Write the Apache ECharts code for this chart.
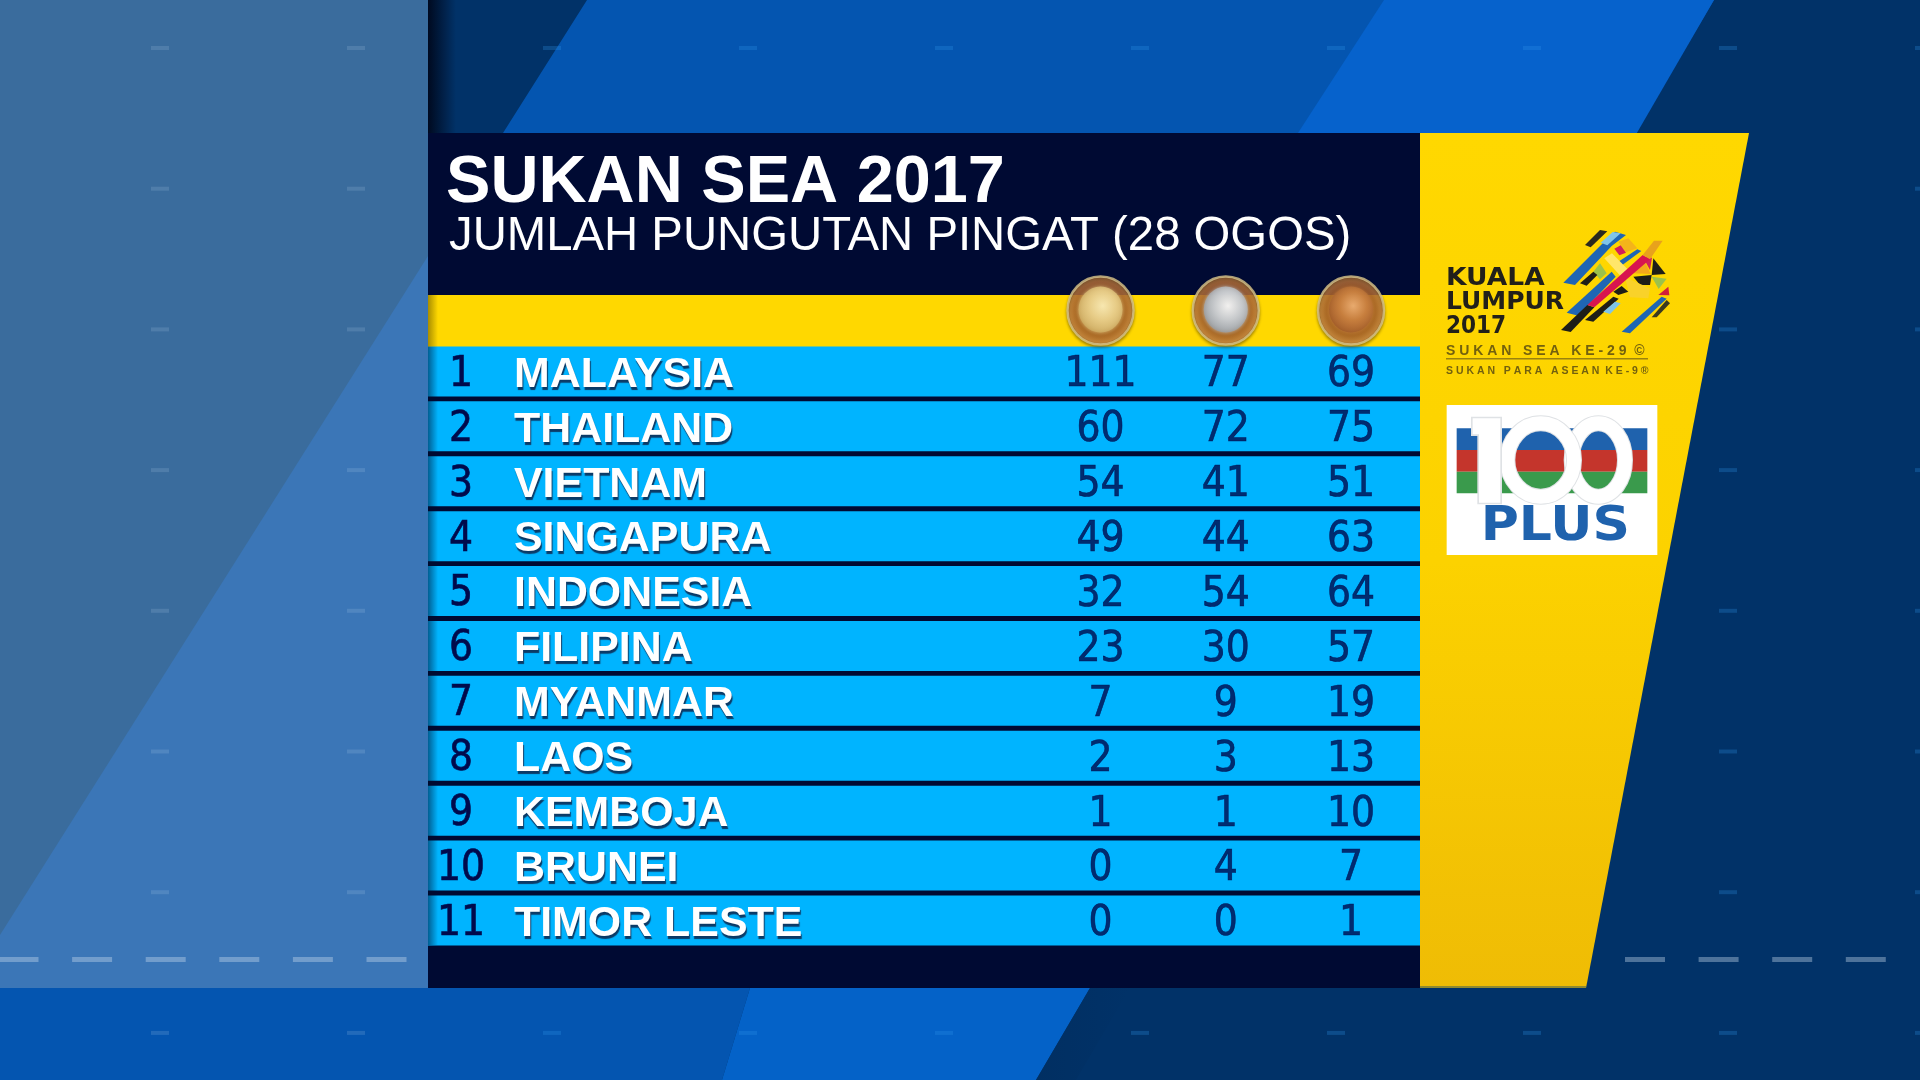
<!DOCTYPE html>
<html>
<head>
<meta charset="utf-8">
<title>Sukan SEA 2017</title>
<style>html,body{margin:0;padding:0;background:#013268;overflow:hidden}#c{width:1920px;height:1080px}</style>
<script src="https://cdn.jsdelivr.net/npm/echarts@6/dist/echarts.min.js"></script>
</head>
<body>
<div id="c"></div>
<script>
const titleText = 'SUKAN SEA 2017';
const subtitleText = 'JUMLAH PUNGUTAN PINGAT (28 OGOS)';
const ranks = ['1','2','3','4','5','6','7','8','9','10','11'];
const countries = ['MALAYSIA','THAILAND','VIETNAM','SINGAPURA','INDONESIA','FILIPINA','MYANMAR','LAOS','KEMBOJA','BRUNEI','TIMOR LESTE'];
const medals = ['Emas','Perak','Gangsa'];
const goldValues = [111,60,54,49,32,23,7,2,1,0,0];
const silverValues = [77,72,41,44,54,30,9,3,1,4,0];
const bronzeValues = [69,75,51,63,64,57,19,13,10,7,1];

const HEADER = ' ';
const yCats = [HEADER].concat(countries);
const NAVY = '#000a33', TEXT_NAVY = '#000a4c', CYAN = '#00b4ff';
const metals = [
  ['#fff3bf','#ead08a','#c9a75c'],
  ['#ffffff','#c9ced3','#8f979f'],
  ['#f3b77c','#c9803f','#9a5526']
];

function poly(points, fill, z, extra){
  return Object.assign({type:'polygon', silent:true, z:z||1, shape:{points}, style:{fill}}, extra||{});
}
function rect(x,y,width,height,fill,z){
  return {type:'rect', silent:true, z:z||1, shape:{x,y,width,height}, style:{fill}};
}
function lin(x,y,x2,y2,stops){
  return {type:'linear',x,y,x2,y2,colorStops:stops.map((c,i)=>({offset:i/(stops.length-1),color:c}))};
}
function txt(x,y,text,font,fill,z,extra){
  return Object.assign({type:'text', silent:true, z:z||5, x, y, style:{text, font, fill, textVerticalAlign:'top'}}, extra||{});
}

// scenery behind the table
const bg = [];
bg.push(rect(0,0,1920,1080,'#013268',0));
bg.push(poly([[587,0],[1714,0],[1635,133],[1560,988],[750,988],[722,1080],[0,1080],[0,988],[503,133]],'#0455b0',0));
bg.push(poly([[1384,0],[1714,0],[1540,300],[1298,133]],'#0662cc',0));
bg.push(poly([[750,988],[1090,988],[1036,1080],[722,1080]],'#0462c8',0));
bg.push(poly([[1090,988],[1130,988],[1076,1080],[1036,1080]],lin(0,0,1,0,['#012f62','#013268']),0));
bg.push(rect(0,0,428,988,'#3a6c9d',0));
bg.push(poly([[428,256],[428,988],[0,988],[0,935]],'#3b76b7',0));
// small dashes of the studio grid
for (let i=0;i<10;i++){
  for (let j=0;j<8;j++){
    const x=160+196*i, y=48+140.7*j;
    bg.push(rect(x-9,y-2,18,4,x<428?'rgba(190,215,240,0.16)':'rgba(50,150,235,0.26)',0));
  }
}
for (let i=0;i<6;i++) bg.push(rect(-1.5+73.6*i,957,40,5,'rgba(205,222,240,0.38)',0));
for (let i=0;i<4;i++) bg.push(rect(1625+73.6*i,957,40,5,'rgba(205,222,240,0.38)',0));
bg.push({type:'polyline',silent:true,z:0,shape:{points:[[320,587],[332,595],[320,602]]},style:{stroke:'rgba(190,220,250,0.6)',fill:'none',lineWidth:1}});
// panels
bg.push(rect(428,133,992,855,NAVY,1));
bg.push(rect(428,295,992,52,'#ffd800',1));
bg.push(rect(428,0,28,133,lin(0,0,1,0,['#000a20','rgba(0,10,32,0)']),0));
bg.push(poly([[1420,133],[1749,133],[1586,988],[1420,988]],lin(0,0,0,1,['#ffd800','#fcd200','#efbc05']),1));
bg.push(rect(1420,986,166,2,'#8f8a30',2));
bg.push(rect(428,347,10,598,lin(0,0,1,0,['rgba(0,10,40,0.5)','rgba(0,10,40,0)']),20));
bg.push(rect(428,295,10,52,lin(0,0,1,0,['rgba(40,30,0,0.4)','rgba(40,30,0,0)']),20));

// Kuala Lumpur 2017 logo
const emblemPieces = [
  [[[105,75],[150,30],[172,34],[122,82]],'#2a2a1e'],
  [[[40,188],[168,60],[195,35],[228,45],[185,78],[75,195]],'#1f66b4'],
  [[[152,68],[188,36],[212,40],[172,76]],'#7fc4e8'],
  [[[205,65],[235,55],[262,85],[228,97]],'#f4b41a'],
  [[[193,86],[212,76],[228,98],[208,106]],'#d21f5c'],
  [[[205,125],[262,88],[274,93],[216,136]],'#1f66b4'],
  [[[163,115],[186,100],[240,155],[215,172]],'#ffe66a'],
  [[[130,155],[150,130],[170,160],[150,178]],'#9cc24a'],
  [[[90,190],[130,155],[142,165],[110,197]],'#1e1e18'],
  [[[50,278],[185,155],[197,170],[85,287]],'#1f66b4'],
  [[[250,170],[305,165],[300,195],[270,195]],'#1e1e18'],
  [[[225,172],[300,205],[295,235],[240,232]],'#f9d22a'],
  [[[310,115],[347,162],[305,165]],'#1e1e18'],
  [[[250,160],[285,125],[302,162]],'#f4a81c'],
  [[[278,110],[306,113],[300,150]],'#d21f5c'],
  [[[305,170],[350,176],[326,207]],'#9cc24a'],
  [[[325,225],[355,200],[358,226]],'#d21f3c'],
  [[[105,300],[190,230],[206,236],[130,305]],'#1e1e18'],
  [[[160,275],[195,245],[212,250],[180,282]],'#7fc4e8'],
  [[[190,215],[215,198],[235,215],[205,225]],'#1e1e18'],
  [[[215,335],[335,230],[350,236],[240,340]],'#1f66b4'],
  [[[305,292],[350,240],[360,250],[320,292]],'#3a3a20'],
  [[[33,330],[112,255],[133,262],[62,336]],'#1e1e18'],
  [[[112,255],[278,105],[300,118],[133,262]],'#d8144f'],
  [[[278,105],[312,62],[338,62],[300,118]],'#e8a21c']
];
const emblem = {type:'group', x:1550, y:220, scaleX:1/3, scaleY:1/3, z:3, silent:true,
  children: emblemPieces.map(p=>poly(p[0],p[1],3))};

const klLogo = [
  txt(1446,265.5,'KUALA','bold 25px "DejaVu Sans"','#22201a',3,{scaleX:1.06}),
  txt(1446,289.5,'LUMPUR','bold 25px "DejaVu Sans"','#22201a',3),
  txt(1446,314.5,'2017','bold 24px "DejaVu Sans"','#22201a',3,{scaleX:0.9}),
  txt(1446,344.5,'S U K A N   S E A   K E - 2 9  \u00a9','bold 14px "Liberation Sans"','#73610e',3),
  rect(1446,358,202,1.5,'#9a820e',3),
  txt(1446,365.5,'S U K A N   P A R A   A S E A N  K E - 9 \u00ae','bold 10.5px "Liberation Sans"','#73610e',3)
];

// 100 PLUS logo
function ring(cx,rx,stroke,w,z){
  return {type:'ellipse',silent:true,z,shape:{cx,cy:1020,rx,ry:110},style:{fill:'none',stroke,lineWidth:w}};
}
const plus = {type:'group', x:1400, y:120, scaleX:1/3, scaleY:1/3, z:3, silent:true, children:[
  rect(140,855,632,450,'#ffffff',3),
  rect(170,925,572,65,'#1f62ad',3),
  rect(170,990,572,65,'#c4352c',3),
  rect(170,1055,572,65,'#3a9a4c',3),
  ring(595,80,'#dfe2e5',48,4),
  ring(595,80,'#ffffff',42,4),
  ring(422,100,'#dfe2e5',48,4),
  ring(422,100,'#ffffff',42,4),
  poly([[213,890],[306,890],[306,1153],[232,1153],[232,948],[213,948]],'#dfe2e5',4),
  poly([[218,895],[301,895],[301,1148],[237,1148],[237,943],[218,943]],'#ffffff',4),
  txt(242,1150,'PLUS','bold 146px "DejaVu Sans"','#1f62ad',4,{scaleX:1.07})
]};

const rowFill = [null].concat(countries.map(()=>1));
const rowLabel = (value, index) => index===0 ? '' : `{r|${ranks[index-1]}}{n|${value}}`;

function cellSeries(name, values, column){
  return {
    name, type:'scatter', xAxisIndex:1, yAxisIndex:1, silent:true, z:6,
    symbol:'circle', symbolSize:1, itemStyle:{color:'transparent'},
    data: values.map((v,i)=>[column, countries[i], v]),
    label:{show:true, position:'inside', offset:[0,4], formatter:p=>String(p.value[2]),
      color:TEXT_NAVY, fontFamily:'"DejaVu Sans Condensed","DejaVu Sans"', fontSize:42,
      textBorderColor:TEXT_NAVY, textBorderWidth:0.6}
  };
}

const option = {
  animation:false,
  backgroundColor:'#013268',
  title:[
    {text:titleText, left:446, top:149, padding:0, z:6,
      textStyle:{color:'#ffffff', fontFamily:'"Liberation Sans"', fontWeight:'bold', fontSize:66.6, lineHeight:70}},
    {text:subtitleText, left:449, top:211, padding:0, z:6,
      textStyle:{color:'#ffffff', fontFamily:'"Liberation Sans"', fontWeight:'normal', fontSize:47.3, lineHeight:52}}
  ],
  grid:[
    {left:428, top:289.1, width:992, height:658.8},
    {left:1037.9, top:289.1, width:375.75, height:658.8}
  ],
  xAxis:[
    {gridIndex:0, type:'value', min:0, max:1, show:false},
    {gridIndex:1, type:'category', data:medals, show:false}
  ],
  yAxis:[
    {gridIndex:0, type:'category', inverse:true, data:yCats,
      axisLine:{show:false}, axisTick:{show:false}, splitLine:{show:false},
      z:6,
      axisLabel:{show:true, inside:true, margin:0, interval:0, formatter:rowLabel, hideOverlap:false,
        rich:{
          r:{width:66, padding:[7,0,0,0], align:'center', color:TEXT_NAVY, fontFamily:'"DejaVu Sans Condensed","DejaVu Sans"', fontSize:42,
             textBorderColor:TEXT_NAVY, textBorderWidth:0.6},
          n:{padding:[7,0,0,20], color:'#ffffff', fontFamily:'"Liberation Sans"', fontWeight:'bold', fontSize:42.9,
             textShadowColor:'#0b3a66', textShadowBlur:1, textShadowOffsetX:1, textShadowOffsetY:3}
        }}},
    {gridIndex:1, type:'category', inverse:true, data:yCats, show:false}
  ],
  series:[
    {name:'Baris', type:'bar', xAxisIndex:0, yAxisIndex:0, silent:true, z:2, barWidth:50, data:rowFill,
      itemStyle:{color:CYAN}},
    {name:'Pingat', type:'scatter', xAxisIndex:1, yAxisIndex:1, silent:true, z:4,
      symbolSize:[66,68], symbolOffset:[0,-6],
      data:medals.map(m=>[m,HEADER]),
      itemStyle:{borderColor:'#d8c58c', borderWidth:2.5, shadowColor:'rgba(60,40,0,0.5)', shadowBlur:3, shadowOffsetY:2,
        color:{type:'radial',x:.5,y:.5,r:.5,colorStops:[{offset:0,color:'#7a3d17'},{offset:.72,color:'#a85f2d'},{offset:.9,color:'#c47f48'},{offset:1,color:'#7d4a22'}]}}},
    {name:'Logam', type:'scatter', xAxisIndex:1, yAxisIndex:1, silent:true, z:5,
      symbolSize:[44,46], symbolOffset:[0,-7],
      data:medals.map((m,i)=>({value:[m,HEADER], itemStyle:{color:{type:'radial',x:.55,y:.42,r:.62,
        colorStops:metals[i].map((c,k)=>({offset:k/2,color:c}))}, shadowColor:metals[i][1], shadowBlur:4}}))},
    cellSeries('Emas', goldValues, medals[0]),
    cellSeries('Perak', silverValues, medals[1]),
    cellSeries('Gangsa', bronzeValues, medals[2])
  ],
  graphic:{elements:[].concat(bg, [emblem], klLogo, [plus])}
};
const chart = echarts.init(document.getElementById('c'), null, {renderer:'canvas', width:1920, height:1080});
chart.setOption(option);
</script>
</body>
</html>
